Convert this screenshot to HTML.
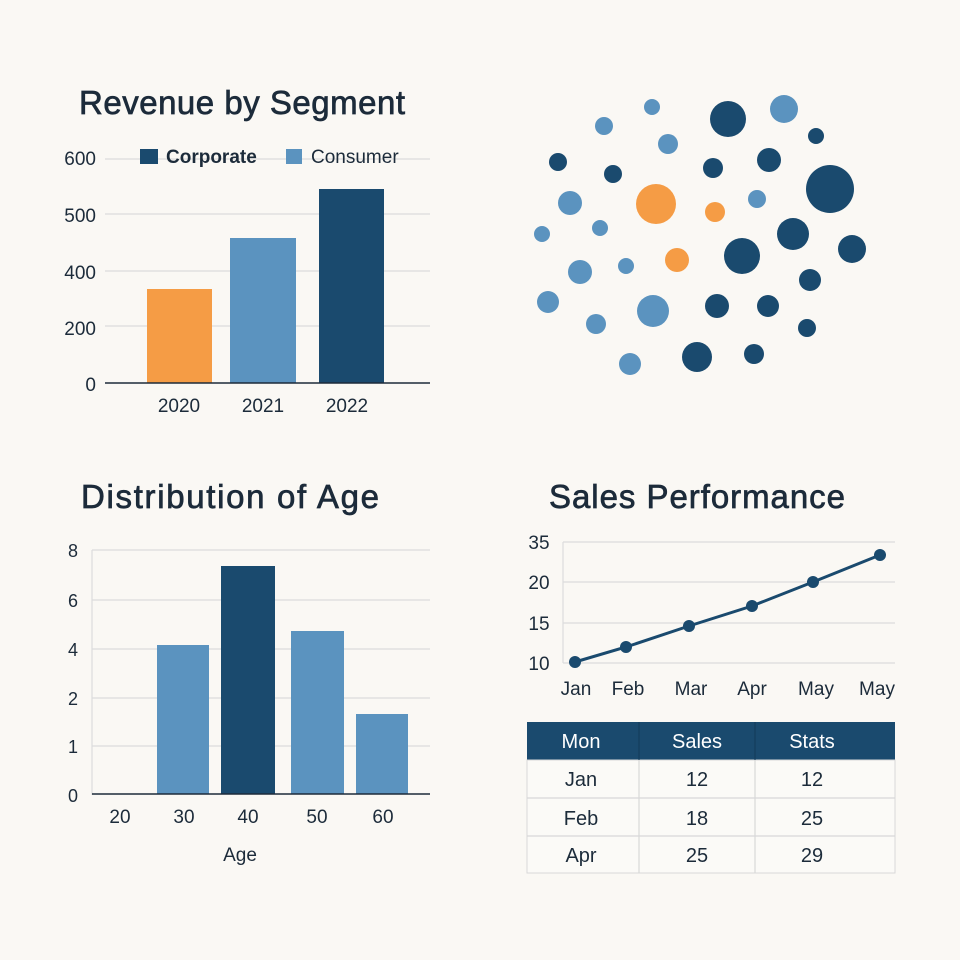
<!DOCTYPE html>
<html><head><meta charset="utf-8"><style>
html,body{margin:0;padding:0;background:#faf8f4;}
svg{display:block}
text{font-family:"Liberation Sans",sans-serif;fill:#1c2b3a}
.t{font-size:33px;stroke:#1c2b3a;stroke-width:0.7px}
</style></head><body>
<svg width="960" height="960" viewBox="0 0 960 960">
<rect width="960" height="960" fill="#faf8f4"/>
<!-- Revenue by Segment -->
<text class="t" x="242" y="114" text-anchor="middle" textLength="326">Revenue by Segment</text>
<g stroke="#dcdcdc" stroke-width="1.2">
<line x1="105" y1="159" x2="430" y2="159"/><line x1="105" y1="214" x2="430" y2="214"/>
<line x1="105" y1="271" x2="430" y2="271"/><line x1="105" y1="326" x2="430" y2="326"/>
</g>
<g font-size="19" text-anchor="end">
<text x="96" y="165">600</text><text x="96" y="222">500</text><text x="96" y="279">400</text>
<text x="96" y="335">200</text><text x="96" y="391">0</text></g>
<rect x="140" y="149" width="18" height="15" fill="#1a4a6e"/>
<text x="166" y="163" font-size="19" font-weight="bold">Corporate</text>
<rect x="286" y="149" width="16" height="15" fill="#5b93bf"/>
<text x="311" y="163" font-size="19">Consumer</text>
<rect x="147" y="289" width="65" height="94" fill="#f59c45"/>
<rect x="230" y="238" width="66" height="145" fill="#5b93bf"/>
<rect x="319" y="189" width="65" height="194" fill="#1a4a6e"/>
<line x1="105" y1="383" x2="430" y2="383" stroke="#1c2b3a" stroke-width="1.5"/>
<g font-size="19" text-anchor="middle"><text x="179" y="412">2020</text><text x="263" y="412">2021</text><text x="347" y="412">2022</text></g>

<!-- Bubbles -->
<g>
<circle cx="652" cy="107" r="8" fill="#5b93bf"/><circle cx="604" cy="126" r="9" fill="#5b93bf"/>
<circle cx="728" cy="119" r="18" fill="#1a4a6e"/><circle cx="784" cy="109" r="14" fill="#5b93bf"/>
<circle cx="816" cy="136" r="8" fill="#1a4a6e"/><circle cx="668" cy="144" r="10" fill="#5b93bf"/>
<circle cx="558" cy="162" r="9" fill="#1a4a6e"/><circle cx="613" cy="174" r="9" fill="#1a4a6e"/>
<circle cx="713" cy="168" r="10" fill="#1a4a6e"/><circle cx="769" cy="160" r="12" fill="#1a4a6e"/>
<circle cx="830" cy="189" r="24" fill="#1a4a6e"/><circle cx="570" cy="203" r="12" fill="#5b93bf"/>
<circle cx="656" cy="204" r="20" fill="#f59c45"/><circle cx="715" cy="212" r="10" fill="#f59c45"/>
<circle cx="757" cy="199" r="9" fill="#5b93bf"/><circle cx="542" cy="234" r="8" fill="#5b93bf"/>
<circle cx="600" cy="228" r="8" fill="#5b93bf"/><circle cx="793" cy="234" r="16" fill="#1a4a6e"/>
<circle cx="852" cy="249" r="14" fill="#1a4a6e"/><circle cx="677" cy="260" r="12" fill="#f59c45"/>
<circle cx="742" cy="256" r="18" fill="#1a4a6e"/><circle cx="580" cy="272" r="12" fill="#5b93bf"/>
<circle cx="626" cy="266" r="8" fill="#5b93bf"/><circle cx="810" cy="280" r="11" fill="#1a4a6e"/>
<circle cx="548" cy="302" r="11" fill="#5b93bf"/><circle cx="653" cy="311" r="16" fill="#5b93bf"/>
<circle cx="717" cy="306" r="12" fill="#1a4a6e"/><circle cx="768" cy="306" r="11" fill="#1a4a6e"/>
<circle cx="596" cy="324" r="10" fill="#5b93bf"/><circle cx="807" cy="328" r="9" fill="#1a4a6e"/>
<circle cx="630" cy="364" r="11" fill="#5b93bf"/><circle cx="697" cy="357" r="15" fill="#1a4a6e"/>
<circle cx="754" cy="354" r="10" fill="#1a4a6e"/>
</g>

<!-- Distribution of Age -->
<text class="t" x="230" y="508" text-anchor="middle" textLength="298">Distribution of Age</text>
<g stroke="#dcdcdc" stroke-width="1.2">
<line x1="92" y1="550" x2="430" y2="550"/><line x1="92" y1="600" x2="430" y2="600"/>
<line x1="92" y1="649" x2="430" y2="649"/><line x1="92" y1="698" x2="430" y2="698"/>
<line x1="92" y1="746" x2="430" y2="746"/><line x1="92" y1="550" x2="92" y2="795"/>
</g>
<g font-size="18" text-anchor="middle">
<text x="73" y="557">8</text><text x="73" y="607">6</text><text x="73" y="656">4</text>
<text x="73" y="705">2</text><text x="73" y="753">1</text><text x="73" y="802">0</text></g>
<rect x="157" y="645" width="52" height="149" fill="#5b93bf"/>
<rect x="221" y="566" width="54" height="228" fill="#1a4a6e"/>
<rect x="291" y="631" width="53" height="163" fill="#5b93bf"/>
<rect x="356" y="714" width="52" height="80" fill="#5b93bf"/>
<line x1="92" y1="794" x2="430" y2="794" stroke="#1c2b3a" stroke-width="1.5"/>
<g font-size="19" text-anchor="middle"><text x="120" y="823">20</text><text x="184" y="823">30</text><text x="248" y="823">40</text><text x="317" y="823">50</text><text x="383" y="823">60</text>
<text x="240" y="861">Age</text></g>

<!-- Sales Performance -->
<text class="t" x="697" y="508" text-anchor="middle" textLength="296">Sales Performance</text>
<g stroke="#dcdcdc" stroke-width="1.2">
<line x1="563" y1="542" x2="895" y2="542"/><line x1="563" y1="582" x2="895" y2="582"/>
<line x1="563" y1="623" x2="895" y2="623"/><line x1="563" y1="663" x2="895" y2="663"/>
<line x1="563" y1="542" x2="563" y2="663"/></g>
<g font-size="19" text-anchor="middle"><text x="539" y="549">35</text><text x="539" y="589">20</text><text x="539" y="630">15</text><text x="539" y="670">10</text>
<text x="576" y="695">Jan</text><text x="628" y="695">Feb</text><text x="691" y="695">Mar</text><text x="752" y="695">Apr</text><text x="816" y="695">May</text><text x="877" y="695">May</text></g>
<polyline points="575,662 626,647 689,626 752,606 813,582 880,555" fill="none" stroke="#1a4a6e" stroke-width="3"/>
<g fill="#1a4a6e"><circle cx="575" cy="662" r="6"/><circle cx="626" cy="647" r="6"/><circle cx="689" cy="626" r="6"/><circle cx="752" cy="606" r="6"/><circle cx="813" cy="582" r="6"/><circle cx="880" cy="555" r="6"/></g>

<!-- Table -->
<rect x="527" y="722" width="368" height="38" fill="#1a4a6e"/>
<rect x="527" y="760" width="368" height="113" fill="#fbfaf7" stroke="#d8d8d8"/>
<g stroke="#d8d8d8" stroke-width="1.2"><line x1="527" y1="798" x2="895" y2="798"/><line x1="527" y1="836" x2="895" y2="836"/>
<line x1="639" y1="760" x2="639" y2="873"/><line x1="755" y1="760" x2="755" y2="873"/></g>
<g stroke="#123a58"><line x1="639" y1="722" x2="639" y2="760"/><line x1="755" y1="722" x2="755" y2="760"/></g>
<g font-size="20" text-anchor="middle">
<text x="581" y="748" style="fill:#fff">Mon</text><text x="697" y="748" style="fill:#fff">Sales</text><text x="812" y="748" style="fill:#fff">Stats</text>
<text x="581" y="786">Jan</text><text x="697" y="786">12</text><text x="812" y="786">12</text>
<text x="581" y="825">Feb</text><text x="697" y="825">18</text><text x="812" y="825">25</text>
<text x="581" y="862">Apr</text><text x="697" y="862">25</text><text x="812" y="862">29</text></g>
</svg>
</body></html>
